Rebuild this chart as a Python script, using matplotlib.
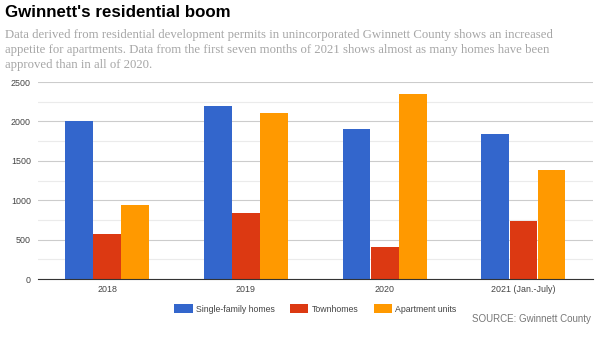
import numpy as np
import matplotlib
matplotlib.use("Agg")
from matplotlib import pyplot as plt
from matplotlib.patches import Patch

years = ["2018", "2019", "2020", "2021 (Jan.-July)"]
single_family = [2000, 2195, 1900, 1836]
townhomes = [572, 834, 406, 732]
apartments = [935, 2111, 2348, 1379]
series_names = ["Single-family homes", "Townhomes", "Apartment units"]
colors = ["#3366CC", "#DC3912", "#FF9900"]

fig = plt.figure(figsize=(6, 3.42), dpi=100)
ax = fig.add_axes([0.063, 0.184, 0.925, 0.576])

x = np.arange(len(years))
w = 0.2
for i, (vals, c) in enumerate(zip([single_family, townhomes, apartments], colors)):
    ax.bar(x + (i - 1) * (w + 0.003), vals, width=w, color=c, zorder=3)

ax.set_xlim(-0.5, len(years) - 0.5)
ax.set_ylim(0, 2500)
ax.set_yticks(np.arange(0, 2501, 500))
ax.set_yticks(np.arange(250, 2500, 500), minor=True)
ax.grid(axis="y", which="major", color="#cccccc", linewidth=0.8, zorder=0)
ax.grid(axis="y", which="minor", color="#ebebeb", linewidth=0.8, zorder=0)
ax.set_xticks(x)
ax.set_xticklabels(years)
ax.tick_params(axis="both", which="both", length=0, labelsize=6.4, labelcolor="#444444",
               labelfontfamily="Liberation Sans")
ax.tick_params(axis="y", pad=5)
ax.tick_params(axis="x", pad=4.5)
for s in ["top", "right", "left"]:
    ax.spines[s].set_visible(False)
ax.spines["bottom"].set_color("#333333")
ax.spines["bottom"].set_linewidth(0.8)
ax.spines["bottom"].set_zorder(4)

fig.text(0.008, 0.963, "Gwinnett's residential boom", fontsize=12.2, fontweight="bold",
         family="Liberation Sans", va="center", ha="left")
subtitle = ("Data derived from residential development permits in unincorporated Gwinnett County shows an increased\n"
            "appetite for apartments. Data from the first seven months of 2021 shows almost as many homes have been\n"
            "approved than in all of 2020.")
fig.text(0.008, 0.914, subtitle, fontsize=9.23, family="Liberation Serif", color="#a6a6a6",
         va="top", ha="left", linespacing=1.33)

handles = [Patch(facecolor=c, edgecolor="none") for c in colors]
fig.legend(handles, series_names, loc="center", bbox_to_anchor=(0.526, 0.0965), ncol=3,
           frameon=False, handlelength=2.1, handleheight=1.2,
           columnspacing=1.7, handletextpad=0.4,
           prop={"family": "Liberation Sans", "size": 6.3})
for t in fig.legends[0].get_texts():
    t.set_color("#444444")

fig.text(0.985, 0.067, "SOURCE: Gwinnett County", fontsize=7.0, family="Liberation Sans",
         color="#777777", ha="right", va="center")

fig.savefig("out.png", dpi=100)
